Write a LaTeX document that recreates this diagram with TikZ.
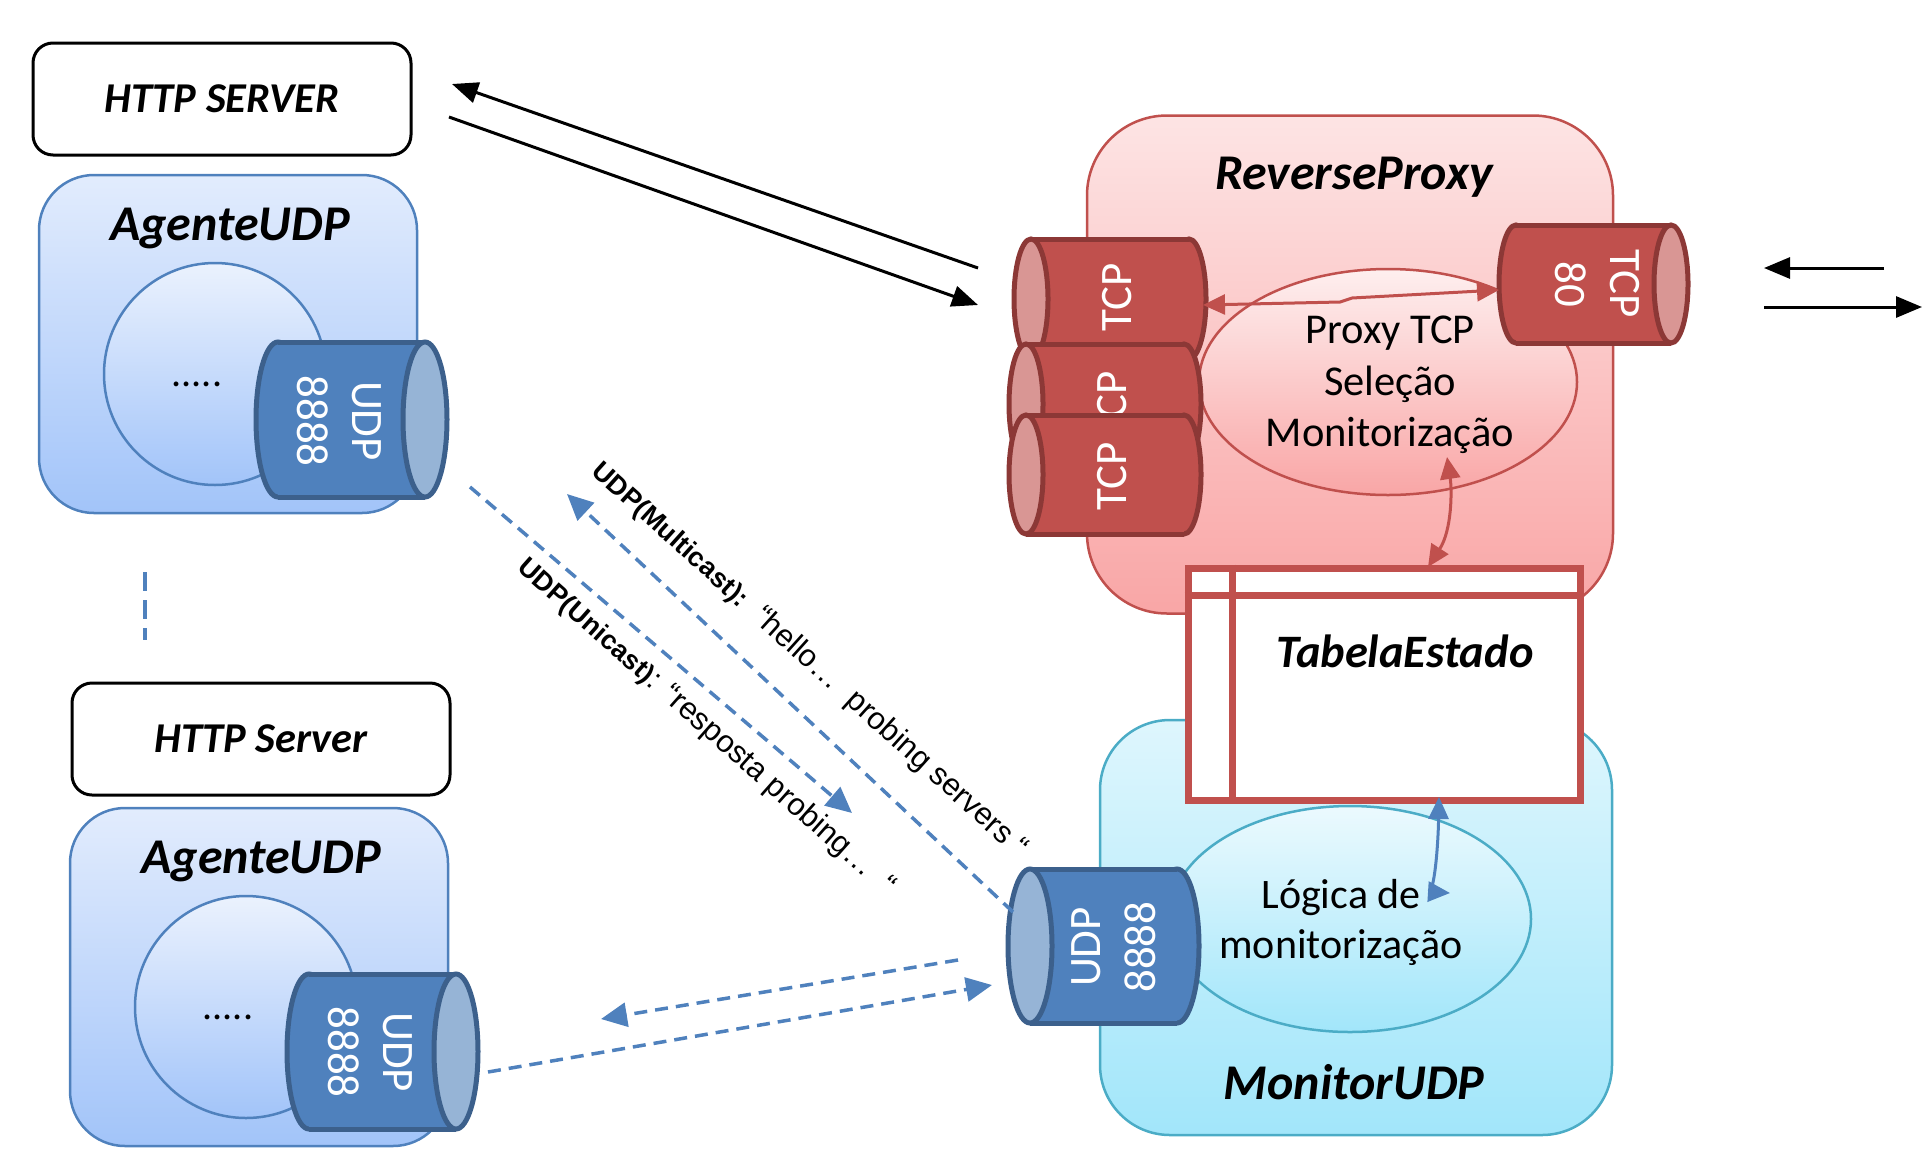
\documentclass[tikz,border=0pt]{standalone}
\usepackage{fontspec}
\setmainfont{Carlito}
\newfontfamily\arialf{Liberation Sans}
\usetikzlibrary{arrows.meta,shapes.geometric,calc}
\definecolor{agBorder}{RGB}{79,129,189}
\definecolor{agTop}{RGB}{226,236,253}
\definecolor{agBot}{RGB}{162,196,249}
\definecolor{udpBody}{RGB}{79,129,189}
\definecolor{udpDark}{RGB}{60,96,140}
\definecolor{udpCap}{RGB}{150,180,214}
\definecolor{rpBorder}{RGB}{192,80,77}
\definecolor{rpTop}{RGB}{253,228,228}
\definecolor{rpBot}{RGB}{249,166,166}
\definecolor{tcpBody}{RGB}{192,80,77}
\definecolor{tcpDark}{RGB}{140,56,54}
\definecolor{tcpCap}{RGB}{217,150,148}
\definecolor{monBorder}{RGB}{75,172,198}
\definecolor{monTop}{RGB}{222,246,253}
\definecolor{monBot}{RGB}{162,230,250}
\definecolor{dashBlue}{RGB}{79,129,189}
% horizontal cylinder, cap (visible end) on the right
\newcommand\mycylR[8]{%
  \pgfmathsetmacro\cyA{#1+#5}\pgfmathsetmacro\cyB{#2-#5}%
  \pgfmathsetmacro\cyM{(#3+#4)/2}\pgfmathsetmacro\cyR{(#4-#3)/2}%
  \filldraw[fill=#6,draw=#7,line width=5pt] (\cyA,\cyM) ellipse[x radius=#5,y radius=\cyR];
  \fill[#6] (\cyA,#3) rectangle (\cyB,#4);
  \draw[#7,line width=5pt] (\cyA,#3) -- (\cyB,#3) (\cyA,#4) -- (\cyB,#4);
  \filldraw[fill=#8,draw=#7,line width=5pt] (\cyB,\cyM) ellipse[x radius=#5,y radius=\cyR];}
% horizontal cylinder, cap (visible end) on the left
\newcommand\mycylL[8]{%
  \pgfmathsetmacro\cyA{#1+#5}\pgfmathsetmacro\cyB{#2-#5}%
  \pgfmathsetmacro\cyM{(#3+#4)/2}\pgfmathsetmacro\cyR{(#4-#3)/2}%
  \filldraw[fill=#6,draw=#7,line width=5pt] (\cyB,\cyM) ellipse[x radius=#5,y radius=\cyR];
  \fill[#6] (\cyA,#3) rectangle (\cyB,#4);
  \draw[#7,line width=5pt] (\cyA,#3) -- (\cyB,#3) (\cyA,#4) -- (\cyB,#4);
  \filldraw[fill=#8,draw=#7,line width=5pt] (\cyA,\cyM) ellipse[x radius=#5,y radius=\cyR];}
\begin{document}
\begin{tikzpicture}[x=1pt,y=-1pt,
  ttl/.style={font=\fontsize{50}{56}\selectfont\bfseries\itshape,inner sep=0pt},
  srv/.style={draw=black,line width=3pt,rounded corners=20pt,fill=white,minimum width=378pt,minimum height=112pt,inner sep=0pt,font=\fontsize{42.5}{48}\selectfont\bfseries\itshape},
  agbox/.style={draw=agBorder,line width=2.5pt,rounded corners=55pt,top color=agTop,bottom color=agBot,minimum width=378pt,minimum height=338pt,inner sep=0pt},
  agcirc/.style={circle,draw=agBorder,line width=2.5pt,top color=agTop!70!white,bottom color=agBot,minimum size=222pt,inner sep=0pt},
  cyltxt/.style={text=white,font=\fontsize{45}{55}\selectfont,align=center,inner sep=0pt},
  plain/.style={font=\fontsize{42.5}{51.5}\selectfont,align=center,inner sep=0pt},
  dots/.style={font=\fontsize{40}{46}\selectfont,inner sep=0pt},
  blk/.style={line width=3pt,-{Triangle[length=26pt,width=21pt]}},
  dsh/.style={color=dashBlue,line width=3.5pt,dash pattern=on 13pt off 8pt,-{Triangle[length=26pt,width=24pt]}},
  rarr/.style={color=rpBorder,line width=3pt,{Triangle[length=22pt,width=20pt]}-{Triangle[length=22pt,width=20pt]}},
  barr/.style={color=dashBlue,line width=3pt,{Triangle[length=22pt,width=20pt]}-{Triangle[length=22pt,width=20pt]}},
  lbl/.style={inner sep=0pt,font=\arialf}
]
\useasboundingbox (0,0) rectangle (1932,1168);

% ---------- left column, first agent ----------
\node[srv] (hs1) at (222,99) {HTTP SERVER};
\node[agbox] (ag1) at (228,344) {};
\node[ttl] (ag1t) at (230,228) {AgenteUDP};
\node[agcirc] (c1) at (215,374) {};
\node[dots] (d1) at (197,384) {.....};
\mycylR{256}{447}{342}{497}{22}{udpBody}{udpDark}{udpCap}
\node[cyltxt,rotate=-90] (u1) at (339,421) {UDP\\8888};

% vertical dashed separator
\coordinate (sepA) at (145,572);
\coordinate (sepB) at (145,640);
\draw[dashBlue,line width=4pt,dash pattern=on 19pt off 9pt] (sepA) -- (sepB);

% ---------- left column, second agent ----------
\node[srv] (hs2) at (261,739) {HTTP Server};
\node[agbox] (ag2) at (259,977) {};
\node[ttl] (ag2t) at (261,861) {AgenteUDP};
\node[agcirc] (c2) at (246,1007) {};
\node[dots] (d2) at (228,1017) {.....};
\mycylR{287}{478}{974}{1129}{22}{udpBody}{udpDark}{udpCap}
\node[cyltxt,rotate=-90] (u2) at (370,1052) {UDP\\8888};

% ---------- ReverseProxy ----------
\node[draw=rpBorder,line width=2.5pt,rounded corners=80pt,top color=rpTop,bottom color=rpBot,minimum width=526pt,minimum height=498pt,inner sep=0pt] (rp) at (1350,364.5) {};
\node[ttl] (rpt) at (1354,177) {ReverseProxy};
\node[ellipse,draw=rpBorder,line width=2.5pt,top color=rpTop!60!white,bottom color=rpBot,minimum width=378pt,minimum height=226pt,inner sep=0pt] (pe) at (1388,382) {};
\node[plain] (pet) at (1390,385) {Proxy TCP\\Seleção\\Monitorização};
\mycylL{1014}{1206}{239}{359}{17}{tcpBody}{tcpDark}{tcpCap}
\node[cyltxt,rotate=90] (t1) at (1117,297) {TCP};
\mycylL{1009}{1201}{344}{464}{17}{tcpBody}{tcpDark}{tcpCap}
\node[cyltxt,rotate=90] (t2) at (1112,405) {TCP};
\mycylL{1009}{1201}{415}{534}{17}{tcpBody}{tcpDark}{tcpCap}
\node[cyltxt,rotate=90] (t3) at (1112,476) {TCP};
\mycylR{1499}{1688}{225}{343}{17}{tcpBody}{tcpDark}{tcpCap}
\node[cyltxt,rotate=-90] (t80) at (1597,284) {TCP\\80};

% ---------- MonitorUDP ----------
\node[draw=monBorder,line width=2.5pt,rounded corners=70pt,top color=monTop,bottom color=monBot,minimum width=512pt,minimum height=415pt,inner sep=0pt] (mon) at (1356,927.5) {};
\node[ttl] (mont) at (1354,1082) {MonitorUDP};
\node[ellipse,draw=monBorder,line width=2.5pt,top color=monTop!60!white,bottom color=monBot,minimum width=362pt,minimum height=226pt,inner sep=0pt] (le) at (1350,919) {};
\node[plain,font=\fontsize{42}{50}\selectfont] (let) at (1341,922) {Lógica de\\monitorização};
\mycylL{1008}{1199}{869}{1023}{22}{udpBody}{udpDark}{udpCap}
\node[cyltxt,rotate=90] (um) at (1114,947) {UDP\\8888};

% ---------- TabelaEstado ----------
\node[draw=rpBorder,line width=7pt,fill=white,minimum width=392pt,minimum height=232pt,inner sep=0pt] (tbl) at (1384,684) {};
\draw[rpBorder,line width=7pt] ($(tbl.north west)+(0,31)$) -- ($(tbl.north east)+(0,31)$);
\draw[rpBorder,line width=7pt] ($(tbl.north west)+(48,0)$) -- ($(tbl.south west)+(48,0)$);
\node[ttl,font=\fontsize{46.5}{52}\selectfont\bfseries\itshape] (tblt) at (1405,651) {TabelaEstado};

% ---------- connectors ----------
\coordinate (ka) at (978,268);
\coordinate (kb) at (452,84);
\coordinate (kc) at (449,117);
\coordinate (kd) at (978,305);
\draw[blk] (ka) -- (kb);
\draw[blk] (kc) -- (kd);
\coordinate (ke) at (1884,268);
\coordinate (kf) at (1764,268);
\coordinate (kg) at (1764,307);
\coordinate (kh) at (1922,307);
\draw[blk] (ke) -- (kf);
\draw[blk] (kg) -- (kh);

\coordinate (ra) at (1203,305);
\coordinate (rb) at (1499,290);
\draw[rarr] (ra) -- (1340,302) -- (1352,298) -- (rb);
\coordinate (rc) at (1447,457);
\coordinate (rd) at (1428,567);
\draw[rarr] (rc) .. controls (1452,490) and (1452,530) .. (rd);

\coordinate (ba) at (1439,797);
\coordinate (bb) at (1450,893);
\draw[barr] (ba) .. controls (1438,850) and (1434,892) .. (bb);

\coordinate (da) at (470,487);
\coordinate (db) at (852,813);
\draw[dsh] (da) -- (db);
\coordinate (dc) at (1013,912);
\coordinate (dd) at (567,494);
\draw[dsh] (dc) -- (dd);
\coordinate (de) at (958,960);
\coordinate (df) at (601,1019);
\draw[dsh] (de) -- (df);
\coordinate (dg) at (488,1072);
\coordinate (dh) at (992,985);
\draw[dsh] (dg) -- (dh);

\node[lbl,rotate=-42] (lm) at (809,660) {\fontsize{27}{30}\selectfont\bfseries UDP(Multicast):\mdseries\fontsize{31}{36}\selectfont\ \ “hello…\ \ probing servers “};
\node[lbl,rotate=-41.5] (lu) at (706,727) {\fontsize{27}{30}\selectfont\bfseries UDP(Unicast)\mdseries\fontsize{31}{36}\selectfont: “resposta probing…\ \ “};
\end{tikzpicture}
\end{document}
